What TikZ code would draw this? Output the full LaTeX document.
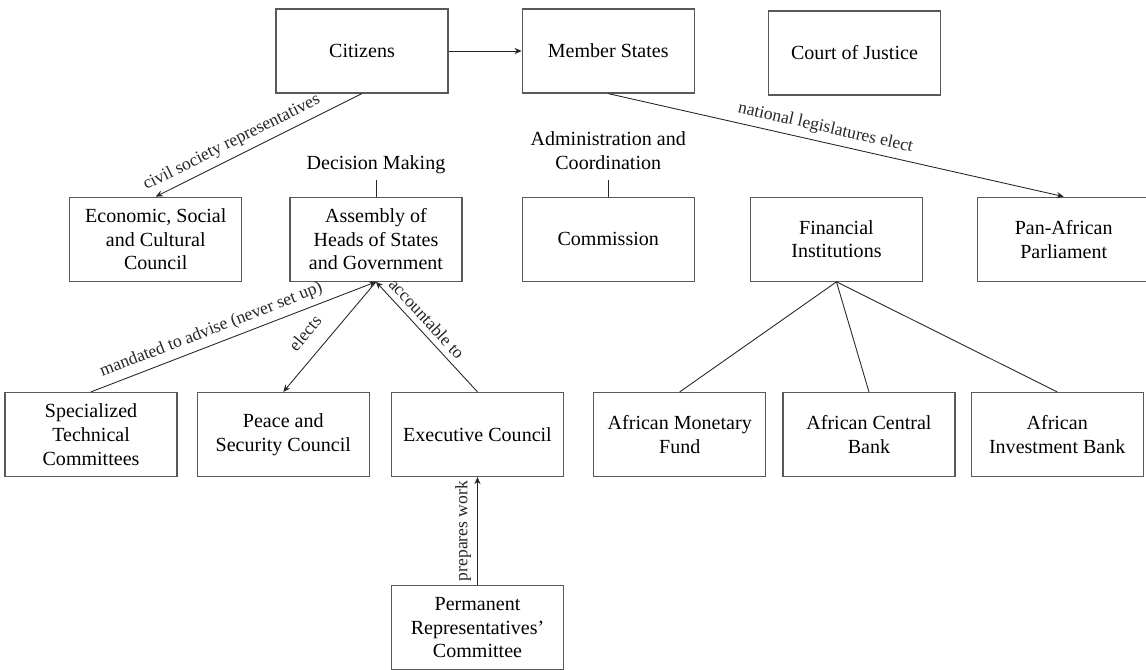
\documentclass[tikz,border=0pt]{standalone}
\usepackage{fontspec}
\setmainfont{Liberation Serif}
\usetikzlibrary{arrows.meta, positioning}

\begin{document}
\begin{tikzpicture}[
    box/.style={draw=black!65, line width=0.7pt, minimum width=3.44cm, minimum height=1.68cm, align=center, font=\fontsize{11.4}{13.5}\selectfont},
    tag/.style={align=center, inner sep=3pt, text depth=0.25em, font=\fontsize{11.4}{13.5}\selectfont},
    lbl/.style={font=\fontsize{10}{12}\selectfont, sloped},
    arr/.style={-{Stealth[length=4pt,width=3.5pt]}, line width=0.5pt, black!85},
    link/.style={line width=0.5pt, black!85}
]
    \useasboundingbox (0,0) rectangle (22.92,-13.4);

    % Nodes
    \node (citizens) [box] at (7.24,-1.02) {Citizens};
    \node (member) [box, right=1.46cm of citizens] {Member States};
    \node (court) [box, right=1.46cm of member, yshift=-0.04cm] {Court of Justice};

    \node (commission) [box, below=2.06cm of member] {Commission};
    \node (assembly) [box, left=1.18cm of commission] {Assembly of\\Heads of States\\and Government};
    \node (ecosoc) [box, left=0.94cm of assembly] {Economic, Social\\and Cultural\\Council};
    \node (financial) [box, right=1.1cm of commission] {Financial\\Institutions};
    \node (panaf) [box, right=1.08cm of financial] {Pan-African\\Parliament};

    \node (decision) [tag, above=0.34cm of assembly] {Decision Making};
    \node (admin) [tag, above=0.34cm of commission] {Administration and\\Coordination};

    \node (exec) [box] at (9.55,-8.69) {Executive Council};
    \node (psc) [box, left=0.42cm of exec] {Peace and\\Security Council};
    \node (stc) [box, left=0.38cm of psc] {Specialized\\Technical\\Committees};
    \node (amf) [box, right=0.58cm of exec] {African Monetary\\Fund};
    \node (acb) [box, right=0.32cm of amf] {African Central\\Bank};
    \node (aib) [box, right=0.3cm of acb] {African\\Investment Bank};

    \node (permrep) [box, below=2.16cm of exec] {Permanent\\Representatives'\\Committee};

    % Paths
    \draw[arr] (citizens) -- (member);
    \draw[arr] (citizens.south) -- node[lbl, above, pos=0.6] {civil society representatives} (ecosoc.north);
    \draw[arr] (member.south) -- node[lbl, above, pos=0.47] {national legislatures elect} (panaf.north);
    \draw[link] (decision) -- (assembly);
    \draw[link] (admin) -- (commission);

    \draw[arr] (stc.north) -- node[lbl, above, pos=0.44] {mandated to advise (never set up)} (assembly.south);
    \draw[arr] (assembly.south) -- node[lbl, above=5pt, pos=0.59] {elects} (psc.north);
    \draw[arr] (exec.north) -- node[lbl, above, pos=0.59] {accountable to} (assembly.south);
    \draw[arr] (permrep) -- node[lbl, above] {prepares work} (exec);

    % Financial institutions
    \draw[link] (financial.south) -- (amf.north);
    \draw[link] (financial.south) -- (acb.north);
    \draw[link] (financial.south) -- (aib.north);
\end{tikzpicture}
\end{document}
